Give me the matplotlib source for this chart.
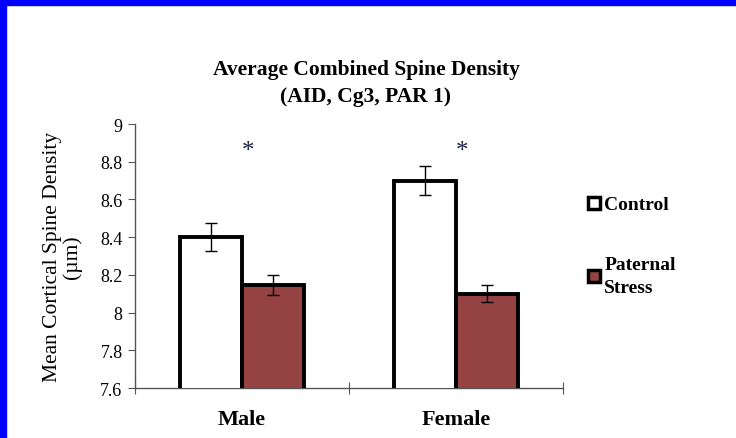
import numpy as np
import matplotlib
matplotlib.use('Agg')
import matplotlib.pyplot as plt
from matplotlib.patches import Rectangle
from matplotlib.lines import Line2D

groups = ['Male', 'Female']
control = [8.40, 8.70]
control_err = [0.075, 0.077]
stress = [8.147, 8.10]
stress_err = [0.053, 0.044]
sig_marks = ['*', '*']
yticks = [7.6, 7.8, 8.0, 8.2, 8.4, 8.6, 8.8, 9.0]
ytick_labels = ['7.6', '7.8', '8', '8.2', '8.4', '8.6', '8.8', '9']

plt.rcParams['font.family'] = ['Liberation Serif', 'DejaVu Serif']

fig = plt.figure(figsize=(7.36, 4.39), dpi=100)
# blue frame of the slide
fig.patches.append(Rectangle((0, 1 - 6 / 439), 1, 6 / 439, transform=fig.transFigure,
                             color='#0000FF', zorder=0))
fig.patches.append(Rectangle((0, 0), 6 / 736, 1, transform=fig.transFigure,
                             color='#0000FF', zorder=0))

ax = fig.add_axes([135 / 736, 50 / 439, 428 / 736, 264 / 439])

x = np.arange(len(groups)) + 0.5
w = 0.288
ax.bar(x - w / 2, control, w, bottom=0, color='white', edgecolor='black', linewidth=2.8,
       yerr=control_err, error_kw=dict(ecolor='black', elinewidth=1, capsize=4, capthick=1),
       zorder=3, label='Control')
ax.bar(x + w / 2, stress, w, color='#944242', edgecolor='black', linewidth=2.8,
       yerr=stress_err, error_kw=dict(ecolor='black', elinewidth=1, capsize=4, capthick=1),
       zorder=3, label='Paternal\nStress')

for xi, s in zip(x, sig_marks):
    ax.text(xi + 0.03, 8.855, s, ha='center', va='center', fontsize=18, color='#1a2040')

ax.set_xlim(0, 2)
ax.set_ylim(7.6, 9.0)
ax.set_yticks(yticks)
ax.set_yticklabels(ytick_labels, fontsize=13)
ax.set_xticks([0, 1, 2])
ax.set_xticklabels([])
ax.set_xticks(x, minor=True)
ax.set_xticklabels(groups, minor=True, fontsize=16, fontweight='bold')
ax.tick_params(axis='x', which='minor', length=0, pad=15)
ax.tick_params(axis='x', which='major', direction='inout', length=8, color='#555555')
ax.tick_params(axis='y', direction='out', length=5, color='#555555', pad=4)
for side in ['top', 'right']:
    ax.spines[side].set_visible(False)
for side in ['left', 'bottom']:
    ax.spines[side].set_color('#555555')
    ax.spines[side].set_linewidth(1)

ax.set_ylabel('Mean Cortical Spine Density\n(\u00b5m)', fontsize=15.5, labelpad=13,
              linespacing=1.0)
fig.text(366 / 736, 1 - 70 / 439, 'Average Combined Spine Density', ha='center',
         va='center', fontsize=15.5, fontweight='bold')
fig.text(366 / 736, 1 - 97 / 439, '(AID, Cg3, PAR 1)', ha='center',
         va='center', fontsize=15.5, fontweight='bold')

handles = [
    Line2D([], [], marker='s', linestyle='none', markersize=8, markerfacecolor='white',
           markeredgecolor='black', markeredgewidth=2.5),
    Line2D([], [], marker='s', linestyle='none', markersize=8, markerfacecolor='#944242',
           markeredgecolor='black', markeredgewidth=2.5),
]
leg = fig.legend(handles, ['Control', 'Paternal\nStress'], loc='upper left',
                 bbox_to_anchor=(576 / 736, 1 - 189 / 439), frameon=False,
                 prop=dict(size=14, weight='bold'), handletextpad=0.05,
                 handlelength=1.0, labelspacing=2.2, borderaxespad=0)
for t in leg.get_texts():
    t.set_linespacing(1.45)

fig.savefig('out.png', dpi=100)
